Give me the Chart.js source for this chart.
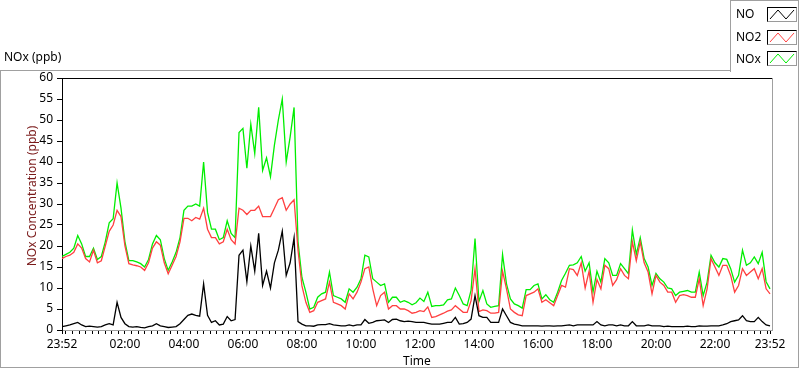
<!DOCTYPE html>
<html><head><meta charset="utf-8">
<script src="https://cdn.jsdelivr.net/npm/chart.js@4"></script>
<style>
html,body{margin:0;padding:0;background:#fff;}
#wrap{position:relative;width:800px;height:369px;overflow:hidden;font-family:"Noto Sans",sans-serif;font-size:12px;color:#000;}
#c{position:absolute;left:0;top:0;}
.t{position:absolute;white-space:nowrap;line-height:14px;}
.ln{position:absolute;background:#a0a0a0;}
.sw{position:absolute;left:767px;width:28px;height:13px;border-left:1px solid #000;border-top:1px solid #000;border-right:1px solid #9a9a9a;border-bottom:1px solid #9a9a9a;background:#fff;}
.sw svg{position:absolute;left:0;top:0;}
</style></head>
<body><div id="wrap">
<canvas id="c" width="800" height="369"></canvas>
<div class="ln" style="left:0;top:70px;width:730px;height:1px"></div>
<div class="ln" style="left:0;top:70px;width:1px;height:298px"></div>
<div class="ln" style="left:0;top:367px;width:799px;height:1px"></div>
<div class="ln" style="left:798px;top:0;width:1px;height:368px"></div>
<div class="ln" style="left:730px;top:0;width:69px;height:1px"></div>
<div class="ln" style="left:730px;top:0;width:1px;height:72px"></div>
<div class="t" style="left:4px;top:50px">NOx (ppb)</div>
<div class="t" style="left:403px;top:354px">Time</div>
<div class="t" id="ytitle" style="left:32px;top:196px;color:#7a1a1a;transform:translate(-50%,-50%) rotate(-90deg)">NOx Concentration (ppb)</div>
<div id="legend"></div>
</div>
<script>
// ---- data (one sample every 8 minutes from 23:52) ----
const startTime = '23:52';
const sampleStepMin = 8;
const NO = [0.8,1.0,1.2,1.5,1.8,1.2,0.8,0.9,0.8,0.7,0.8,1.2,1.5,1.2,6.6,3.0,1.5,0.8,0.7,0.8,
0.6,0.5,0.8,1.0,1.5,1.0,0.8,0.6,0.7,0.8,1.5,2.5,3.5,3.8,3.5,3.3,11,3.5,1.8,2.2,
1.2,1.4,3.2,2.2,2.5,17.8,19,11.5,20,14,23,10.6,14,10,16,19,23.5,13,16,22,
2,1.4,1.0,1.0,0.9,1.2,1.3,1.3,1.5,1.2,1.1,1.0,1.0,1.2,1.0,1.2,1.2,2.5,1.6,1.8,
2.2,2.3,2.4,1.8,2.5,2.6,2.2,2.0,2.1,2.0,1.8,1.8,1.8,1.6,1.4,1.4,1.4,1.6,1.8,1.8,
3,1.4,1.5,1.8,2.6,8.2,3.4,3,3,1.8,1.8,1.8,5,3.4,1.8,1.4,1.2,1.0,1.0,1.0,
1.0,1.0,0.9,1.0,1.0,0.9,1.0,1.0,1.1,1.2,1.0,1.2,1.2,1.2,1.2,1.2,2.0,1.2,1.0,1.2,
1.2,1.0,1.2,1.0,1.0,2.0,1.0,1.0,1.0,1.2,1.0,1.0,1.0,0.8,0.9,0.8,0.8,0.8,0.8,0.9,
0.8,0.8,1.0,0.9,0.9,1.0,1.0,1.0,1.2,1.5,2.0,2.2,2.4,3.4,2.2,2.0,2.0,3.0,2.0,1.2,1.0];
const NO2 = [17,17.5,17.8,18.5,20.5,19.5,17,16.2,19,16,16.5,20,23.5,25,28.5,27,20,15.8,15.5,15.3,
15,14.2,16,19.5,21,20.2,16,13.4,15.4,17.5,21,26.6,26.6,26,26.8,26.4,29,24,22,22,
20.5,21,24,21.5,20.5,29,28.5,27.5,28.5,28.5,29.5,27,27,27,29,31,31.5,28.5,30,31,
19,10.5,6.6,4.2,4.6,6.6,7,7.4,11.4,6.6,6.2,5.8,5,8.6,7.4,9,11.4,14.6,15,9.8,
5.8,8.2,9,5,5.8,5.8,5,5,4.6,4.0,4.2,4.6,4.4,5.5,3,3.2,3.6,4.0,4.5,4.8,
5.8,5,4.2,4.2,7,14.6,4.4,4.8,4.6,4.0,4.0,4.2,14,9.8,5,4.2,3.6,3.4,8.2,8.6,
9,9.8,6.6,7.2,6.5,5.8,8.2,10.6,10.2,14.6,14.4,13,16,10,14,6.6,12,9.8,15.4,14.6,
10.6,12,14.6,13,12.2,21,16.5,21,16,13.8,8.6,13,11.4,10.6,9,9,6.6,8.2,8.4,8.2,
7.8,7.8,12.2,5.8,9.8,17,15,13,15.4,15.4,13,9,10.6,14.6,13,13.8,14.6,12.2,14.6,9.8,8.6];
const NOx = [17.5,18,18.5,19.5,22.5,20.5,17.5,17.5,19.5,16.8,17.5,21,25.5,26.5,35,29,21,16.5,16.5,16.2,
15.8,15,16.8,20.5,22.5,21.5,17,14.2,16.2,18.5,22,28.5,29.5,29.5,30,29.5,40,28,24,24,
21.5,22,26,23,22,47,48,38.5,49,42,53,38,41,36.5,44,50,55,40,46,53,
21,12.5,9,5,5.4,7.8,8.6,9,13.8,8.2,7.8,7.4,6.6,9.8,9,10.2,12.2,17.8,17.4,12.2,
11.4,10.6,11,6.6,7.8,7.8,6.6,7,6.6,6,6.5,7.6,6.8,9,5.6,5.8,5.8,6.0,7.2,7.4,
10,8.2,6.2,5.8,9.5,21.8,6.8,9.4,6.2,5.4,5.6,5.8,18,11,7.4,6.2,5.8,5.2,9.6,9.6,
10.6,11,7.4,8.4,7.2,6.6,9,11.8,13.5,15.4,15.5,16,17.5,14,16,9,14,11.4,17,16,
13,13,15.8,14.6,13.4,23.8,18,22,17,15,10.6,13.5,12.2,11.4,10,9.8,8.2,9,9.2,9.4,
9,9,13.8,8.2,11.4,17.8,16,15,17,16.8,14.6,11.4,13,19,15.4,16,17.4,15.8,18.5,11.5,9.8];
const tickLabels = ['23:52','02:00','04:00','06:00','08:00','10:00','12:00','14:00','16:00','18:00','20:00','22:00','23:52'];
const yTicks = [0,5,10,15,20,25,30,35,40,45,50,55,60];
const seriesNames = ['NO','NO2','NOx'];
const seriesColors = ['#000000','#ff4040','#00ee00'];

// ---- helpers ----
function toMin(s){const [h,m]=s.split(':').map(Number);return h*60+m;}
const start = toMin(startTime);
const span = 1440;
const majorMin = tickLabels.map((l,i)=> i===tickLabels.length-1 ? span : ((toMin(l)-start+1440)%1440));
// minor ticks: 9 divisions per two-hour major interval, aligned on even hours
const minorMin = [];
const step2h = 120/9;
for(let m = majorMin[1]; m > 0.5; m -= step2h) minorMin.push(m);
for(let m = majorMin[1]; m < span - 0.5; m += step2h) minorMin.push(m);
const allTicks = [...new Set([...majorMin, ...minorMin].map(v=>Math.round(v*1000)/1000))].sort((a,b)=>a-b);
function labelFor(v){const k = majorMin.findIndex(m=>Math.abs(m-v)<0.01);return k>=0?tickLabels[k]:'';}
const xs = NO.map((_,i)=>i*sampleStepMin);
const mk = arr => arr.map((v,i)=>({x:xs[i],y:v}));

const frame = {id:'frame', afterDraw(c){
  const {ctx, chartArea:a} = c;
  ctx.save();
  ctx.lineWidth = 1;
  ctx.strokeStyle = '#000';
  ctx.beginPath(); ctx.moveTo(a.left, a.top+0.5); ctx.lineTo(a.right, a.top+0.5); ctx.stroke();
  ctx.strokeStyle = '#a0a0a0';
  ctx.beginPath(); ctx.moveTo(a.right+0.5, a.top); ctx.lineTo(a.right+0.5, a.bottom+1); ctx.stroke();
  ctx.restore();
}};

const font = {family:'"Noto Sans", sans-serif', size:12};
new Chart(document.getElementById('c'), {
  type:'line',
  data:{datasets: seriesNames.map((n,k)=>({
    label:n, data: mk([NO,NO2,NOx][k]), borderColor:seriesColors[k], borderWidth:1.3,
    pointRadius:0, tension:0, fill:false
  }))},
  options:{
    responsive:false, animation:false, events:[],
    layout:{padding:{left:0,top:78,right:28,bottom:0}},
    plugins:{legend:{display:false}, tooltip:{enabled:false}},
    scales:{
      x:{type:'linear', min:0, max:1444,
        afterBuildTicks: s => { s.ticks = allTicks.map(v=>({value:v})); },
        ticks:{autoSkip:false, maxRotation:0, minRotation:0, padding:3, color:'#000', font, callback:(v)=>labelFor(v)},
        grid:{drawOnChartArea:false, drawTicks:true, tickLength:4, tickColor:'#000', tickWidth:1},
        border:{display:true, color:'#a0a0a0', width:1},
        afterFit: s => { s.height = 39; }
      },
      y:{min:0, max:60,
        afterBuildTicks: s => { s.ticks = yTicks.map(v=>({value:v})); },
        ticks:{padding:4, color:'#000', font},
        grid:{drawOnChartArea:false, drawTicks:true, tickLength:5, tickColor:'#000'},
        border:{display:true, color:'#000', width:1},
        afterFit: s => { s.width = 62; }
      }
    }
  },
  plugins:[frame]
});

// legend
const lg = document.getElementById('legend');
const tops = [7,30,51];
const ty = [7,30,52];
seriesNames.forEach((n,k)=>{
  const t = document.createElement('div'); t.className='t'; t.style.left='736px'; t.style.top=ty[k]+'px'; t.textContent=n; lg.appendChild(t);
  const b = document.createElement('div'); b.className='sw'; b.style.top=tops[k]+'px';
  b.innerHTML = '<svg width="28" height="13"><polyline points="2,11 10,2 18,11 26,2" fill="none" stroke="'+seriesColors[k]+'" stroke-width="1"/></svg>';
  lg.appendChild(b);
});
</script>
</body></html>
